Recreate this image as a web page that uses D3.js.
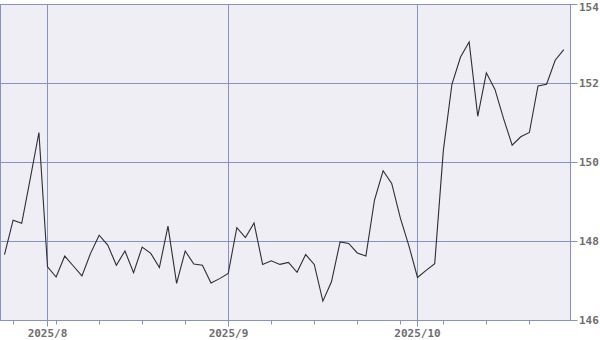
<!DOCTYPE html>
<html><head><meta charset="utf-8">
<script src="https://cdn.jsdelivr.net/npm/d3@7"></script>
<style>
html,body{margin:0;padding:0;background:#fff;}
svg{display:block;}
text{font-family:"DejaVu Sans Mono","Liberation Mono",monospace;font-weight:bold;font-size:11px;fill:#6e6e6e;}
</style></head><body>
<svg id="chart" width="600" height="340"></svg>
<script>
const dates = [
 "2025-07-25","2025-07-28","2025-07-29","2025-07-30","2025-07-31",
 "2025-08-01","2025-08-04","2025-08-05","2025-08-06","2025-08-07","2025-08-08",
 "2025-08-11","2025-08-12","2025-08-13","2025-08-14","2025-08-15",
 "2025-08-18","2025-08-19","2025-08-20","2025-08-21","2025-08-22",
 "2025-08-25","2025-08-26","2025-08-27","2025-08-28","2025-08-29",
 "2025-09-01","2025-09-02","2025-09-03","2025-09-04","2025-09-05",
 "2025-09-08","2025-09-09","2025-09-10","2025-09-11","2025-09-12",
 "2025-09-15","2025-09-16","2025-09-17","2025-09-18","2025-09-19",
 "2025-09-22","2025-09-23","2025-09-24","2025-09-25","2025-09-26",
 "2025-09-29","2025-09-30",
 "2025-10-01","2025-10-02","2025-10-03",
 "2025-10-06","2025-10-07","2025-10-08","2025-10-09","2025-10-10",
 "2025-10-13","2025-10-14","2025-10-15","2025-10-16","2025-10-17",
 "2025-10-20","2025-10-21","2025-10-22","2025-10-23","2025-10-24"
];
const values = [
 147.67,148.54,148.46,149.60,150.76,
 147.36,147.10,147.63,147.38,147.13,147.70,
 148.16,147.91,147.40,147.76,147.21,
 147.86,147.70,147.34,148.39,146.94,
 147.76,147.43,147.40,146.95,147.06,
 147.19,148.35,148.10,148.47,147.42,
 147.51,147.42,147.47,147.22,147.67,
 147.42,146.49,146.98,147.99,147.95,
 147.71,147.63,149.05,149.79,149.47,
 148.60,147.89,
 147.09,147.27,147.44,
 150.30,151.98,152.67,153.05,151.17,
 152.27,151.85,151.11,150.44,150.65,
 150.76,151.94,151.98,152.59,152.86
];
const yTicks = [146,148,150,152,154];
const monthLabels = {"2025-08":"2025/8","2025-09":"2025/9","2025-10":"2025/10"};

const svg = d3.select("#chart");
const L=0.5, R=570.5, T=4.5, B=320.5;
const x = d3.scaleLinear().domain([-0.465, 65.78]).range([L, R]);
const y = d3.scaleLinear().domain([146,154]).range([B, T]);
const crisp = v => Math.floor(v)+0.5;
const gridCol = "#8791c4";

svg.append("rect").attr("x",L).attr("y",T).attr("width",R-L).attr("height",B-T)
  .attr("fill","#eeeef4").attr("stroke",gridCol);

// horizontal grid + right ticks/labels
const gy = svg.append("g");
yTicks.forEach(v=>{
  const yy = crisp(y(v));
  gy.append("line").attr("x1",L).attr("x2",R).attr("y1",yy).attr("y2",yy).attr("stroke",gridCol);
  gy.append("line").attr("x1",R).attr("x2",R+7).attr("y1",yy).attr("y2",yy).attr("stroke",gridCol);
  gy.append("text").attr("x",579).attr("y",Math.max(yy,7)).attr("dy","0.36em").text(v);
});

// month lines & weekly ticks derived from dates
const parse = d3.timeParse("%Y-%m-%d");
const gx = svg.append("g");
dates.forEach((d,i)=>{
  const dt = parse(d);
  const prev = i>0 ? dates[i-1] : null;
  const xx = crisp(x(i));
  const newMonth = prev && prev.slice(0,7)!==d.slice(0,7);
  if(newMonth){
    gx.append("line").attr("x1",xx).attr("x2",xx).attr("y1",T).attr("y2",B+6).attr("stroke",gridCol);
    gx.append("text").attr("x",xx).attr("y",337).attr("text-anchor","middle").text(monthLabels[d.slice(0,7)]);
  } else if(dt.getDay()===1){
    gx.append("line").attr("x1",xx).attr("x2",xx).attr("y1",B).attr("y2",B+4).attr("stroke",gridCol);
  }
});

const line = d3.line().x((d,i)=>x(i)).y(d=>y(d));
svg.append("path").datum(values).attr("d",line).attr("fill","none")
  .attr("stroke","#2e2e2e").attr("stroke-width",1.1);
</script>
</body></html>
